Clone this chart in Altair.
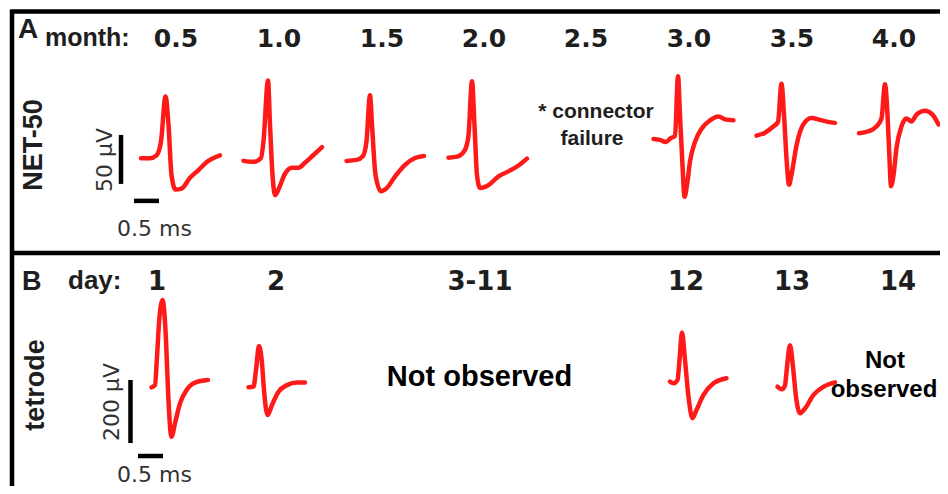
import altair as alt
import pandas as pd

RED = "#ff1a1a"
INK = "#1e1e1e"
GREY = "#333333"

# ---------------- Panel A : NET-50 (time in ms, voltage in µV) ----------------
month_labels = ["0.5", "1.0", "1.5", "2.0", "2.5", "3.0", "3.5", "4.0"]
month_label_ms = [3.36, 5.42, 7.48, 9.52, 11.56, 13.62, 15.68, 17.72]

# each trace: t = ms from trace start, v = µV relative to trace start
net_m05_t = [0, 0.18, 0.31, 0.40, 0.49, 0.55, 0.61, 0.69, 0.81, 0.98, 1.15, 1.31, 1.58]
net_m05_v = [0, 0, 3, 17, 63, 34, -17, -32, -31, -20, -12, -4, 3]
net_m10_t = [0, 0.20, 0.35, 0.40, 0.49, 0.53, 0.58, 0.63, 0.71, 0.82, 0.97, 1.10, 1.23, 1.40, 1.57]
net_m10_v = [0, -1, 3, 20, 82, 37, -14, -35, -28, -14, -7, -7, -2, 6, 14]
net_m15_t = [0, 0.20, 0.33, 0.40, 0.47, 0.51, 0.58, 0.69, 0.80, 0.97, 1.17, 1.37, 1.55]
net_m15_v = [0, 1, 5, 20, 67, 37, -14, -31, -28, -16, -4, 3, 5]
net_m20_t = [0, 0.17, 0.33, 0.40, 0.47, 0.52, 0.57, 0.63, 0.80, 1.00, 1.20, 1.40, 1.57]
net_m20_v = [0, 1, 8, 23, 78, 33, -18, -31, -28, -19, -14, -8, -1]
net_m30_t = [0, 0.13, 0.25, 0.35, 0.43, 0.49, 0.53, 0.58, 0.62, 0.67, 0.73, 0.83, 0.97, 1.13, 1.30, 1.43, 1.60]
net_m30_v = [0, -1, -3, 1, 3, 64, 24, -27, -59, -47, -23, -3, 11, 19, 23, 20, 19]
net_m35_t = [0, 0.17, 0.33, 0.43, 0.50, 0.55, 0.60, 0.65, 0.70, 0.80, 0.93, 1.10, 1.27, 1.43, 1.57]
net_m35_v = [0, 3, 9, 14, 53, 21, -23, -50, -40, -10, 11, 18, 16, 14, 13]
net_m40_t = [0, 0.19, 0.35, 0.45, 0.52, 0.57, 0.61, 0.64, 0.69, 0.75, 0.85, 0.95, 1.05, 1.15, 1.32, 1.47, 1.59]
net_m40_v = [0, 2, 7, 15, 50, 19, -26, -54, -43, -15, 7, 15, 12, 19, 23, 19, 9]

net_names = ["0.5", "1.0", "1.5", "2.0", "3.0", "3.5", "4.0"]
net_traces = [(net_m05_t, net_m05_v), (net_m10_t, net_m10_v), (net_m15_t, net_m15_v),
              (net_m20_t, net_m20_v), (net_m30_t, net_m30_v), (net_m35_t, net_m35_v),
              (net_m40_t, net_m40_v)]
net_start_ms = [2.66, 4.71, 6.77, 8.81, 12.91, 14.97, 17.02]
net_start_uv = [1.7, -1.0, -1.0, 2.3, 21.4, 24.8, 27.2]

# ---------------- Panel B : tetrode ----------------
day_labels = ["1", "2", "3-11", "12", "13", "14"]
day_label_ms = [2.98, 5.36, 9.44, 13.56, 15.68, 17.80]

tet_d01_t = [0, 0.07, 0.11, 0.15, 0.22, 0.29, 0.33, 0.40, 0.47, 0.57, 0.70, 0.87, 1.13]
tet_d01_v = [0, 7, 97, 203, 277, 150, -9, -157, -114, -51, -9, 15, 23]
tet_d02_t = [0, 0.10, 0.15, 0.21, 0.27, 0.31, 0.38, 0.47, 0.60, 0.77, 0.97, 1.13]
tet_d02_v = [0, 2, 55, 131, 76, -9, -88, -56, -14, 7, 15, 15]
tet_d12_t = [0, 0.07, 0.15, 0.19, 0.24, 0.30, 0.37, 0.45, 0.53, 0.67, 0.87, 1.13]
tet_d12_v = [0, -5, 5, 69, 156, 69, -48, -116, -90, -42, -5, 11]
tet_d13_t = [0, 0.09, 0.15, 0.19, 0.25, 0.31, 0.37, 0.45, 0.55, 0.72, 0.92, 1.15]
tet_d13_v = [0, -8, 5, 63, 132, 63, -32, -84, -69, -26, 0, 14]

tet_names = ["1", "2", "12", "13"]
tet_traces = [(tet_d01_t, tet_d01_v), (tet_d02_t, tet_d02_v),
              (tet_d12_t, tet_d12_v), (tet_d13_t, tet_d13_v)]
tet_start_ms = [2.87, 4.81, 13.24, 15.39]
tet_start_uv = [-7.3, -7.3, 10.5, -5.4]


def traces_frame(names, traces, t0s, v0s):
    rows = []
    for name, (ts, vs), t0, v0 in zip(names, traces, t0s, v0s):
        for t, v in zip(ts, vs):
            rows.append({"wave": name, "ms": t0 + t, "uv": v0 + v})
    return pd.DataFrame(rows)


W, H = 932, 478          # whole figure (page margin 8px on each side)
HA = 246                 # panel A occupies the top 246 px
X_DOM = [0, W / 50.0]    # 50 px per ms
YA = dict(domain=[-96, 155], range=[HA, 0])         # ~0.98 px / µV
YB = dict(domain=[-346, 416], range=[HA + 240, HA])  # ~0.315 px / µV


def enc_xy(ys, xf="ms", yf="uv"):
    return dict(
        x=alt.X(f"{xf}:Q", scale=alt.Scale(domain=X_DOM, nice=False, zero=False), axis=None),
        y=alt.Y(f"{yf}:Q", scale=alt.Scale(domain=ys["domain"], range=ys["range"],
                                           nice=False, zero=False), axis=None),
    )


def waves_layer(df, ys):
    return alt.Chart(df).mark_line(
        color=RED, strokeWidth=4.5, interpolate="monotone",
        strokeCap="round", strokeJoin="round"
    ).encode(detail="wave:N", **enc_xy(ys))


def bars_layer(df, ys):
    e = enc_xy(ys)
    return alt.Chart(df).mark_rule(color="black", strokeWidth=4.5).encode(
        x=e["x"], x2="ms2:Q", y=e["y"], y2="uv2:Q")


def text_layer(texts, xs, ys_vals, ys, **kw):
    df = pd.DataFrame({"label": texts, "ms": xs, "uv": ys_vals})
    return alt.Chart(df).mark_text(**kw).encode(text="label:N", **enc_xy(ys))


one = pd.DataFrame({"k": [0]})


def frame_rule(**enc):
    return alt.Chart(one).mark_rule(color="black", strokeWidth=4.5).encode(**enc)


# scale bars (ms, µV)
barsA = pd.DataFrame({"ms": [2.26, 2.52], "ms2": [2.26, 3.02],
                      "uv": [-24.5, -41.8], "uv2": [25.5, -41.8]})
barsB = pd.DataFrame({"ms": [2.45, 2.60], "ms2": [2.45, 3.10],
                      "uv": [-184.1, -225.4], "uv2": [15.9, -225.4]})

dfA = traces_frame(net_names, net_traces, net_start_ms, net_start_uv)
dfB = traces_frame(tet_names, tet_traces, tet_start_ms, tet_start_uv)

bold = dict(font="Liberation Sans", fontWeight="bold", color=INK)

layers = [
    # frame
    frame_rule(x=alt.value(2), x2=alt.value(W), y=alt.value(3.5)),
    frame_rule(x=alt.value(4), y=alt.value(2), y2=alt.value(H)),
    frame_rule(x=alt.value(2), x2=alt.value(W), y=alt.value(245)),
    # panel A
    waves_layer(dfA, YA),
    bars_layer(barsA, YA),
    text_layer(["A"], [0.2], [124.5], YA, fontSize=28, align="left",
               baseline="alphabetic", **bold),
    text_layer(["month:"], [0.74], [116], YA, fontSize=25, align="left",
               baseline="alphabetic", **bold),
    text_layer(month_labels, month_label_ms, [115] * 8, YA, font="DejaVu Sans",
               fontSize=25, fontWeight="bold", align="center", baseline="alphabetic", color=INK),
    text_layer(["NET-50"], [0.52], [15.3], YA, fontSize=27, angle=270,
               align="center", baseline="middle", **bold),
    text_layer(["50 μV"], [1.94], [0], YA, font="DejaVu Sans", fontSize=22,
               angle=270, align="center", baseline="middle", color=GREY),
    text_layer(["0.5 ms"], [2.93], [-77.6], YA, font="DejaVu Sans", fontSize=22,
               align="center", baseline="alphabetic", color=GREY),
    text_layer(["* connector", "failure"], [11.76, 11.68], [42.9, 15.3], YA,
               fontSize=21, align="center", baseline="alphabetic", **bold),
    # panel B
    waves_layer(dfB, YB),
    bars_layer(barsB, YB),
    text_layer(["B"], [0.28], [301.6], YB, fontSize=27, align="left",
               baseline="alphabetic", **bold),
    text_layer(["day:"], [1.2], [304.8], YB, fontSize=26, align="left",
               baseline="alphabetic", **bold),
    text_layer(day_labels, day_label_ms, [301.6] * 6, YB, font="DejaVu Sans",
               fontSize=26, fontWeight="bold", align="center", baseline="alphabetic", color=INK),
    text_layer(["tetrode"], [0.56], [0], YB, fontSize=27, angle=270,
               align="center", baseline="middle", **bold),
    text_layer(["200 μV"], [2.08], [-54], YB, font="DejaVu Sans", fontSize=22,
               angle=270, align="center", baseline="middle", color=GREY),
    text_layer(["0.5 ms"], [2.93], [-307.9], YB, font="DejaVu Sans", fontSize=22,
               align="center", baseline="alphabetic", color=GREY),
    text_layer(["Not observed"], [9.43], [-3.2], YB, font="Liberation Sans", fontSize=29,
               fontWeight="bold", align="center", baseline="alphabetic", color="black"),
    text_layer(["Not", "observed"], [17.54, 17.52], [54, -38.1], YB,
               font="Liberation Sans", fontSize=24, fontWeight="bold",
               align="center", baseline="alphabetic", color="black"),
]

chart = alt.layer(*layers).resolve_scale(y="independent").properties(
    width=W, height=H, padding=0, background="white",
    autosize=alt.AutoSizeParams(type="none"),
).configure_view(stroke=None)

chart.save("out.html", embed_options={"renderer": "svg", "actions": False})
